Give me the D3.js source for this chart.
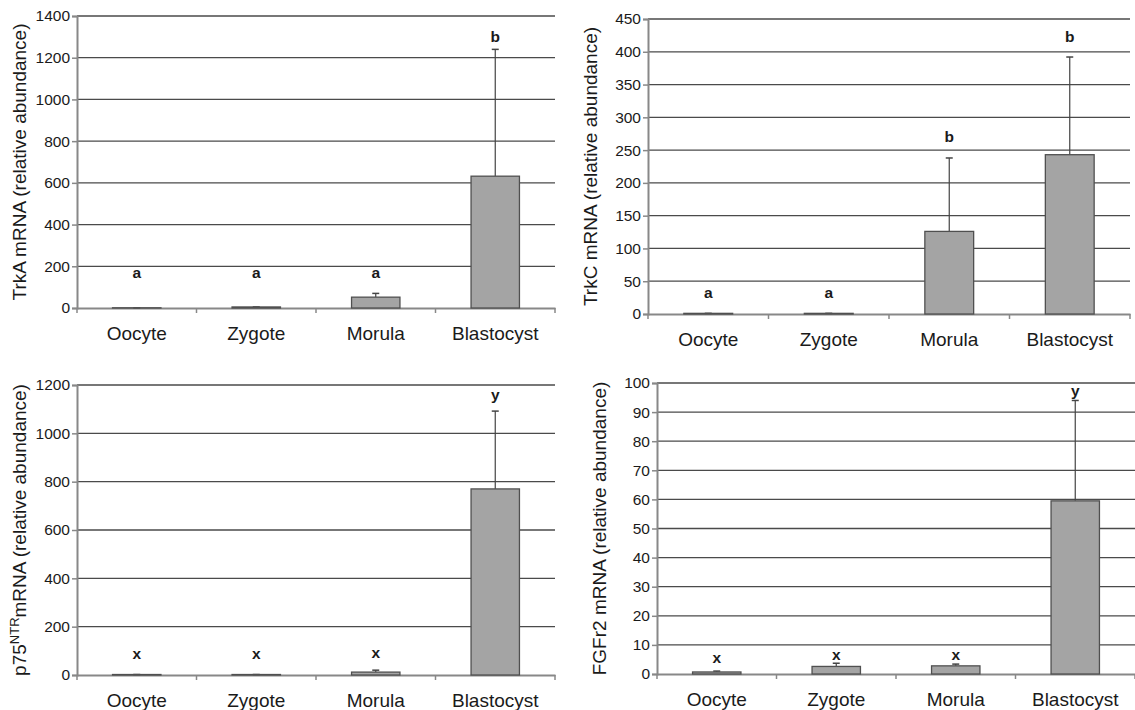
<!DOCTYPE html>
<html>
<head>
<meta charset="utf-8">
<title>mRNA relative abundance</title>
<script src="https://d3js.org/d3.v7.min.js"></script>
<style>
  body { margin: 0; background: #fff; }
  text { font-family: "Liberation Sans", Arial, sans-serif; fill: #1a1a1a; }
</style>
</head>
<body>
<script>
// stages shared by all four panels
var stages = ["Oocyte", "Zygote", "Morula", "Blastocyst"];

// TrkA
var trkaMean = [1, 5, 52, 632];
var trkaTop = [1, 5, 70, 1240];
var trkaLetters = ["a", "a", "a", "b"];
var trkaTicks = [0, 200, 400, 600, 800, 1000, 1200, 1400];

// TrkC
var trkcMean = [1, 1, 126, 243];
var trkcTop = [1, 1, 238, 392];
var trkcLetters = ["a", "a", "b", "b"];
var trkcTicks = [0, 50, 100, 150, 200, 250, 300, 350, 400, 450];

// p75NTR
var p75Mean = [2, 2, 12, 770];
var p75Top = [2, 2, 20, 1092];
var p75Letters = ["x", "x", "x", "y"];
var p75Ticks = [0, 200, 400, 600, 800, 1000, 1200];

// FGFr2
var fgfMean = [0.7, 2.6, 2.8, 59.5];
var fgfTop = [1.0, 3.7, 3.4, 94];
var fgfLetters = ["x", "x", "x", "y"];
var fgfTicks = [0, 10, 20, 30, 40, 50, 60, 70, 80, 90, 100];

var w = 1135, h = 710;
var svg = d3.select("body").append("svg").attr("width", w).attr("height", h);

// one panel: box = left, top(max tick), right, bottom(zero)
function panel(box, mean, top, letters, ticks, title, letterY) {
  var g = svg.append("g");
  var x = d3.scaleBand().domain(stages).range([box.l, box.r]);
  var y = d3.scaleLinear().domain([0, ticks[ticks.length - 1]]).range([box.b, box.t]);

  // gridlines
  g.selectAll("line.grid").data(ticks.slice(1)).enter().append("line")
    .attr("x1", box.l).attr("x2", box.r)
    .attr("y1", function(d) { return y(d); })
    .attr("y2", function(d) { return y(d); })
    .attr("stroke", "#4a4a4a").attr("stroke-width", 1.3);

  // y axis
  var ya = g.append("g").attr("transform", "translate(" + box.l + ",0)")
    .call(d3.axisLeft(y).tickValues(ticks).tickSize(5).tickPadding(2).tickFormat(d3.format("d")));
  ya.select(".domain").attr("stroke", "#888").attr("stroke-width", 2);
  ya.selectAll(".tick line").attr("stroke", "#888").attr("stroke-width", 1.5);
  ya.selectAll(".tick text").attr("font-size", "15.5px").attr("fill", "#1a1a1a");

  // x axis: ticks on band boundaries, labels in middle
  var xa = g.append("g").attr("transform", "translate(0," + box.b + ")")
    .call(d3.axisBottom(x).tickSize(0).tickPadding(19));
  xa.select(".domain").attr("stroke", "#888").attr("stroke-width", 2);
  xa.selectAll(".tick text").attr("font-size", "19px").attr("fill", "#1a1a1a");
  var edges = stages.map(function(s) { return x(s); }).concat([box.r]);
  g.selectAll("line.xt").data(edges).enter().append("line")
    .attr("x1", function(d) { return d; }).attr("x2", function(d) { return d; })
    .attr("y1", box.b).attr("y2", box.b + 5)
    .attr("stroke", "#888").attr("stroke-width", 1.5);

  var bw = x.bandwidth() * 0.405;
  var cx = function(i) { return x(stages[i]) + x.bandwidth() / 2; };

  // error bars (upper only)
  g.selectAll("line.err").data(top).enter().append("line")
    .attr("x1", function(d, i) { return cx(i); }).attr("x2", function(d, i) { return cx(i); })
    .attr("y1", function(d, i) { return y(mean[i]); })
    .attr("y2", function(d) { return y(d); })
    .attr("stroke", "#444").attr("stroke-width", 1.2);
  g.selectAll("line.cap").data(top).enter().append("line")
    .attr("x1", function(d, i) { return cx(i) - 3.5; }).attr("x2", function(d, i) { return cx(i) + 3.5; })
    .attr("y1", function(d) { return y(d); }).attr("y2", function(d) { return y(d); })
    .attr("stroke", "#444").attr("stroke-width", 1.5);

  // bars
  g.selectAll("rect").data(mean).enter().append("rect")
    .attr("x", function(d, i) { return cx(i) - bw / 2; })
    .attr("y", function(d) { return y(d); })
    .attr("width", bw)
    .attr("height", function(d) { return box.b - y(d); })
    .attr("fill", "#a4a4a4").attr("stroke", "#505050").attr("stroke-width", 1.3);

  // significance letters
  g.selectAll("text.lt").data(letters).enter().append("text")
    .attr("x", function(d, i) { return cx(i); })
    .attr("y", function(d, i) { return letterY[i]; })
    .attr("text-anchor", "middle").attr("font-size", "15.5px").attr("font-weight", "bold")
    .text(function(d) { return d; });

  // y title
  var t = g.append("text")
    .attr("transform", "translate(" + (box.l - 51) + "," + ((box.t + box.b) / 2) + ") rotate(-90)")
    .attr("text-anchor", "middle").attr("font-size", "19px");
  title(t);
}

panel({l: 77, t: 16, r: 555, b: 308}, trkaMean, trkaTop, trkaLetters, trkaTicks,
  function(t) { t.text("TrkA mRNA (relative abundance)"); }, [278, 278, 278, 42]);

panel({l: 648, t: 19, r: 1130, b: 314}, trkcMean, trkcTop, trkcLetters, trkcTicks,
  function(t) { t.text("TrkC mRNA (relative abundance)"); }, [298, 298, 142, 42]);

panel({l: 77, t: 385, r: 555, b: 675}, p75Mean, p75Top, p75Letters, p75Ticks,
  function(t) {
    t.append("tspan").text("p75");
    t.append("tspan").attr("font-size", "13px").attr("dy", "-7").text("NTR");
    t.append("tspan").attr("dy", "7").text("mRNA (relative abundance)");
  }, [659, 659, 658, 400]);

panel({l: 657, t: 383, r: 1135, b: 674}, fgfMean, fgfTop, fgfLetters, fgfTicks,
  function(t) { t.text("FGFr2 mRNA (relative abundance)"); }, [663, 660, 660, 396]);
</script>
</body>
</html>
